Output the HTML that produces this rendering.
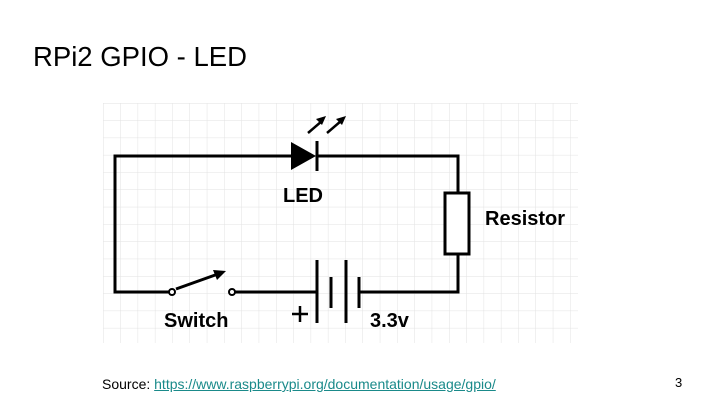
<!DOCTYPE html>
<html><head><meta charset="utf-8"><style>
body{margin:0;width:720px;height:405px;background:#fff;position:relative;overflow:hidden;font-family:"Liberation Sans",sans-serif}
.t{position:absolute;left:33px;top:41px;font-size:27.5px;color:#000;white-space:nowrap}
.s{position:absolute;left:102px;top:376px;font-size:14px;color:#000;white-space:nowrap;letter-spacing:0}
.s span{color:#1a8a8a;text-decoration:underline}
.n{position:absolute;left:675px;top:375px;font-size:13px}
</style></head><body>
<div class="t">RPi2 GPIO - LED</div>
<svg width="720" height="405" style="position:absolute;left:0;top:0">
<defs><pattern id="g" width="17.3" height="17.3" patternUnits="userSpaceOnUse" x="103" y="103">
<path d="M0 0V17.3M0 0H17.3" stroke="#e2e2e2" stroke-width="1" fill="none"/></pattern></defs>
<rect x="103" y="103" width="475" height="240" fill="url(#g)"/>
<g stroke="#000" stroke-width="3" fill="none">
<path d="M291 156H115V292H171M235 292H317M359 292H458V254M458 193V156H317"/>
<rect x="445" y="193" width="24" height="61" fill="#fff"/>
<path d="M317 141V171" />
<path d="M317 260V323M331 277V308M346 260V323M359 277V308"/>
<path d="M176 289L218 274"/>
<path d="M308 133L322 121M327 133L341 121" stroke-width="2.5"/>
<path d="M292 314H308M300 306V322" stroke-width="2.5"/>
</g>
<polygon points="291,142 291,170 316,156" fill="#000"/>
<polygon points="226,271 213,270 217,280" fill="#000"/>
<polygon points="326,116 316,119 322,125" fill="#000"/>
<polygon points="346,116 336,119 342,125" fill="#000"/>
<circle cx="172" cy="292" r="3" fill="#fff" stroke="#000" stroke-width="2"/>
<circle cx="232" cy="292" r="3" fill="#fff" stroke="#000" stroke-width="2"/>
<g font-family="Liberation Sans,sans-serif" font-weight="bold" font-size="20" fill="#000">
<text x="283" y="202">LED</text>
<text x="485" y="225">Resistor</text>
<text x="164" y="327">Switch</text>
<text x="370" y="327">3.3v</text>
</g>
</svg>
<div class="s">Source: <span>https://www.raspberrypi.org/documentation/usage/gpio/</span></div>
<div class="n">3</div>
</body></html>
